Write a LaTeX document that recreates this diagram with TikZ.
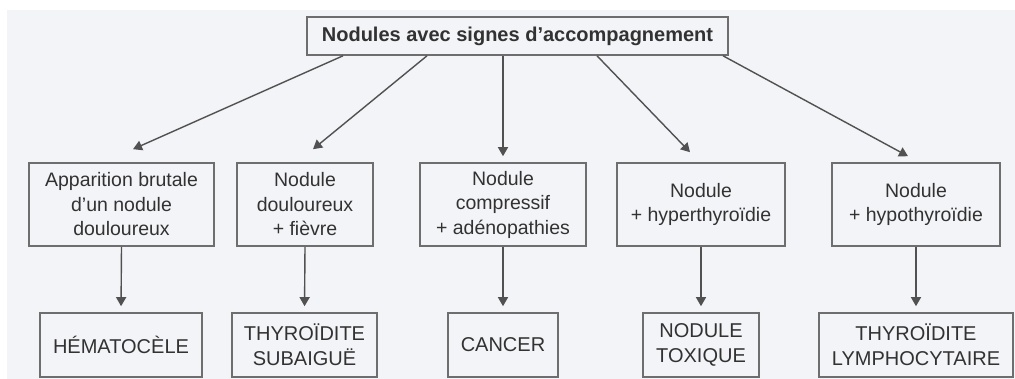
\documentclass[tikz,border=0pt]{standalone}
\usepackage{fontspec}
\setmainfont{Liberation Sans}
\usetikzlibrary{arrows.meta}
\definecolor{paperGray}{RGB}{243, 244, 247}
\definecolor{frameGray}{RGB}{110, 110, 110}
\definecolor{inkGray}{RGB}{50, 50, 50}

\begin{document}
\begin{tikzpicture}[x=1pt, y=-1pt,
    box/.style={draw=frameGray, line width=1.6pt, text=inkGray, align=center, inner sep=0pt},
    midbox/.style={box, minimum height=83pt, font=\fontsize{19.5}{24.5}\selectfont},
    endbox/.style={box, minimum height=64pt, font=\fontsize{20}{25}\selectfont},
    link/.style={draw=inkGray!85, line width=1.4pt, -{Triangle[length=9pt,width=10pt]}}]
    \useasboundingbox (0,0) rectangle (1015,379);
    \fill[paperGray] (7,10) rectangle (1015,379);

    % Root
    \node[box, minimum width=421pt, minimum height=38pt, font=\fontsize{20}{24}\selectfont\bfseries] (root) at (517.5,36) {Nodules avec signes d'accompagnement};

    % Signs
    \node[midbox, minimum width=185pt] (sign1) at (121.5,204.5) {Apparition brutale\\d'un nodule\\douloureux};
    \node[midbox, minimum width=136pt] (sign2) at (305,204.5) {Nodule\\douloureux\\+ fièvre};
    \node[midbox, minimum width=166pt] (sign3) at (503,204.5) {Nodule\\compressif\\+ adénopathies};
    \node[midbox, minimum width=168pt] (sign4) at (701,204.5) {Nodule\\+ hyperthyroïdie};
    \node[midbox, minimum width=168pt] (sign5) at (916,204.5) {Nodule\\+ hypothyroïdie};

    % Diagnoses
    \node[endbox, minimum width=162pt] (diag1) at (121,345) {HÉMATOCÈLE};
    \node[endbox, minimum width=145pt] (diag2) at (304.5,345) {THYROÏDITE\\SUBAIGUË};
    \node[endbox, minimum width=110pt] (diag3) at (503,345) {CANCER};
    \node[endbox, minimum width=116pt] (diag4) at (701,345) {NODULE\\TOXIQUE};
    \node[endbox, minimum width=194pt] (diag5) at (916,345) {THYROÏDITE\\LYMPHOCYTAIRE};

    % Arrows from root
    \draw[link] ([xshift=-174.5pt]root.south) -- ([xshift=11.5pt,yshift=13pt]sign1.north);
    \draw[link] ([xshift=-90.5pt]root.south) -- ([xshift=8pt,yshift=13pt]sign2.north);
    \draw[link] ([xshift=-14.5pt]root.south) -- ([yshift=6pt]sign3.north);
    \draw[link] ([xshift=79.5pt]root.south) -- ([xshift=-11pt,yshift=10pt]sign4.north);
    \draw[link] ([xshift=205.5pt]root.south) -- ([xshift=-8pt,yshift=6pt]sign5.north);

    % Arrows to diagnoses
    \foreach \i in {1,...,5}
        \draw[link, shorten >=6pt] (sign\i.south) -- (diag\i.north);
\end{tikzpicture}
\end{document}
